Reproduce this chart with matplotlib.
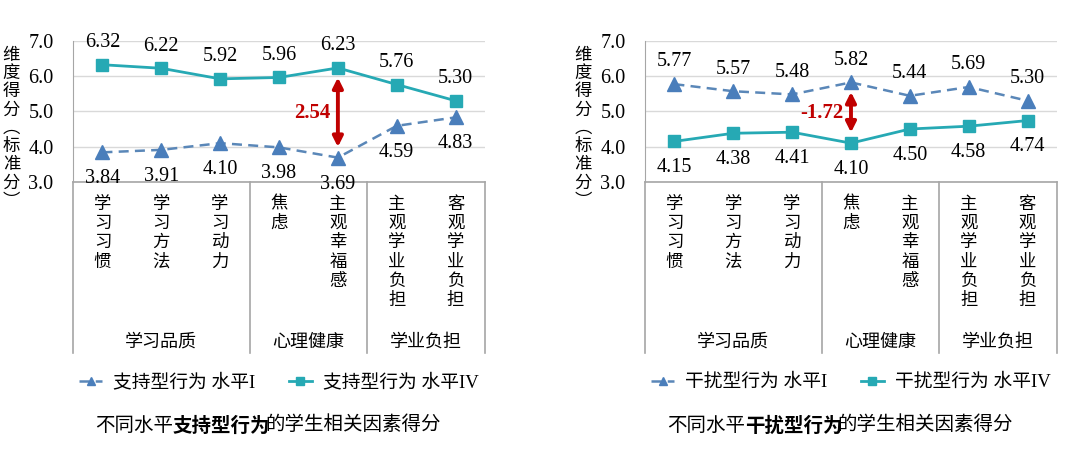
import matplotlib
matplotlib.use("Agg")
import matplotlib.pyplot as plt
from matplotlib.transforms import blended_transform_factory

plt.rcParams["font.family"] = ["Liberation Serif", "Noto Sans CJK SC"]

# ---- data ----
categories = ["学习习惯", "学习方法", "学习动力", "焦虑", "主观幸福感", "主观学业负担", "客观学业负担"]
groups = ["学习品质", "心理健康", "学业负担"]
group_bounds = [(-0.5, 2.5), (2.5, 4.5), (4.5, 6.5)]

support_lvl1 = [3.84, 3.91, 4.10, 3.98, 3.69, 4.59, 4.83]
support_lvl4 = [6.32, 6.22, 5.92, 5.96, 6.23, 5.76, 5.30]
interf_lvl1 = [5.77, 5.57, 5.48, 5.82, 5.44, 5.69, 5.30]
interf_lvl4 = [4.15, 4.38, 4.41, 4.10, 4.50, 4.58, 4.74]

panels = [
    dict(name="支持型行为", lvl1=support_lvl1, lvl4=support_lvl4, arrow_idx=4,
         left=0.0676, ylab_x=0.0105, cap_left=95 / 1080),
    dict(name="干扰型行为", lvl1=interf_lvl1, lvl4=interf_lvl4, arrow_idx=3,
         left=0.5972, ylab_x=0.540, cap_left=667 / 1080),
]

BLUE = "#4A7EBB"
BLUE_LINE = "#5A87B8"
TEAL = "#26A9B4"
RED = "#C00000"
GRID = "#D9D9D9"
AXC = "#A6A6A6"
CJK = ["Noto Sans CJK SC"]

fig = plt.figure(figsize=(10.8, 4.55), dpi=100)

for p in panels:
    ax = fig.add_axes([p["left"], 0.6, 0.3815, 0.3105])
    x = list(range(len(categories)))
    l1, = ax.plot(x, p["lvl1"], ls=(0, (4, 2.5)), color=BLUE_LINE, lw=1.8,
                  marker="^", ms=10, mfc=BLUE, mec=BLUE, label=f"{p['name']} 水平I")
    l4, = ax.plot(x, p["lvl4"], ls="-", color=TEAL, lw=2.0,
                  marker="s", ms=9, mfc=TEAL, mec=TEAL, label=f"{p['name']} 水平IV")
    ax.set_xlim(-0.5, 6.5)
    ax.set_ylim(3.0, 7.0)
    yt = [3.0, 4.0, 5.0, 6.0, 7.0]
    ax.set_yticks(yt)
    ax.set_yticklabels([f"{v:.1f}" for v in yt], fontsize=14.5)
    ax.tick_params(axis="y", length=0, pad=14)
    ax.set_xticks([])
    ax.grid(axis="y", color=GRID, lw=1)
    for s in ["top", "right", "bottom"]:
        ax.spines[s].set_visible(False)
    ax.spines["left"].set_color(AXC)
    ax.axhline(3.0, color=AXC, lw=1.2, clip_on=False)

    # value labels: higher series above, lower series below
    hi, lo = (p["lvl4"], p["lvl1"]) if p["lvl4"][0] > p["lvl1"][0] else (p["lvl1"], p["lvl4"])
    for i in x:
        ax.annotate(f"{hi[i]:.2f}", (i, hi[i]), xytext=(0, 16), textcoords="offset points",
                    ha="center", va="center", fontsize=14.5)
        ax.annotate(f"{lo[i]:.2f}", (i, lo[i]), xytext=(0, -19), textcoords="offset points",
                    ha="center", va="center", fontsize=14.5, annotation_clip=False)

    # difference arrow
    k = p["arrow_idx"]
    up, dn = max(hi[k], lo[k]), min(hi[k], lo[k])
    ax.annotate("", xy=(k, dn + 0.3), xytext=(k, up - 0.27),
                arrowprops=dict(arrowstyle="<|-|>", color=RED, lw=2.8, mutation_scale=15,
                                shrinkA=0, shrinkB=0))
    diff = p["lvl4"][k] - p["lvl1"][k]
    ax.text(k - 0.13, (up + dn) / 2, f"{diff:.2f}", ha="right", va="center",
            fontsize=15, fontweight="bold", color=RED)

    # category box below axis
    tr = blended_transform_factory(ax.transData, ax.transAxes)
    for b in [-0.5, 2.5, 4.5, 6.5]:
        ax.plot([b, b], [0, -1.21], transform=tr, color=AXC, lw=1.2, clip_on=False)
    for i, c in enumerate(categories):
        ax.text(i, -0.09, "\n".join(c), transform=tr, ha="center", va="top",
                fontsize=12.5, linespacing=1.09, family=CJK)
    for g, (a, b) in zip(groups, group_bounds):
        ax.text((a + b) / 2, -1.13, g, transform=tr, ha="center", va="center",
                fontsize=13, family=CJK)

    ax.legend(handles=[l1, l4], loc="center", bbox_to_anchor=(0.5, -1.42), ncol=2,
              frameon=False, fontsize=13.5, handlelength=1.2, handletextpad=0.6,
              columnspacing=1.8, markerscale=0.6)

    # y label (vertical stacked)
    fig.text(p["ylab_x"], 0.719, "\n".join("维度得分︵标准分︶"), ha="center", va="center",
             fontsize=12.5, linespacing=1.02, family=CJK)

    # caption with bold middle part, chained pieces
    cy = 1 - 425 / 455
    t1 = fig.text(p["cap_left"], cy, "不同水平", ha="left", va="center", fontsize=14, family=CJK)
    t2 = ax.annotate(p["name"], xy=(1, 0), xycoords=t1, ha="left", va="bottom",
                     fontsize=14, fontweight="bold", family=CJK, annotation_clip=False)
    ax.annotate("的学生相关因素得分", xy=(1, 0), xycoords=t2, xytext=(-4, 0),
                textcoords="offset points", ha="left", va="bottom",
                fontsize=14, family=CJK, annotation_clip=False)

fig.savefig("out.png", dpi=100)
